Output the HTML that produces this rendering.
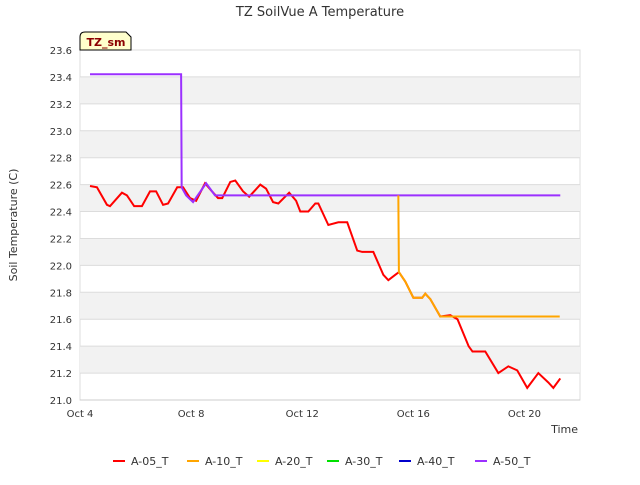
<!DOCTYPE html>
<html><head><meta charset="utf-8"><style>
body{margin:0;background:#fff;font-family:"Liberation Sans","DejaVu Sans",sans-serif}
svg text{font-family:"DejaVu Sans","Liberation Sans",sans-serif}
</style></head><body>
<svg id="c" width="640" height="480" xmlns="http://www.w3.org/2000/svg">
<text x="320" y="16" text-anchor="middle" font-size="13" fill="#333">TZ SoilVue A Temperature</text>
<g id="plot"></g>
<text x="17" y="225" text-anchor="middle" font-size="11" fill="#333" transform="rotate(-90 17 225)">Soil Temperature (C)</text>
<text x="578" y="433" text-anchor="end" font-size="11" fill="#333">Time</text>
<g>
<path d="M80,50 L80,37 Q80,32 85,32 L126,32 L131,37 L131,50 Z" fill="#ffffcc" stroke="#000" stroke-width="1"/>
<text x="106" y="46" text-anchor="middle" font-size="11" font-weight="bold" fill="#8b0000">TZ_sm</text>
</g>
<g id="legend"></g>
</svg>
<script>
const yTicks=[21.0,21.2,21.4,21.6,21.8,22.0,22.2,22.4,22.6,22.8,23.0,23.2,23.4,23.6];
const xTickDays=[4,8,12,16,20];
const xTickLabels=["Oct 4","Oct 8","Oct 12","Oct 16","Oct 20"];
const seriesNames=["A-05_T","A-10_T","A-20_T","A-30_T","A-40_T","A-50_T"];
const seriesColors=["#ff0000","#ffa500","#ffff00","#00e000","#0000cc","#9b30ff"];
const redT=[4.36,4.61,4.97,5.08,5.51,5.69,5.95,6.23,6.52,6.74,6.99,7.17,7.50,7.71,7.96,8.18,8.50,8.75,8.97,9.12,9.41,9.59,9.87,10.09,10.49,10.70,10.95,11.14,11.53,11.78,11.93,12.22,12.47,12.58,12.94,13.30,13.62,13.98,14.16,14.56,14.92,15.10,15.35,15.48,15.71,16.0,16.32,16.43,16.61,16.97,17.33,17.59,17.99,18.13,18.59,19.06,19.42,19.74,20.10,20.50,20.86,21.04,21.29];
const redV=[22.59,22.58,22.45,22.44,22.54,22.52,22.44,22.44,22.55,22.55,22.45,22.46,22.58,22.58,22.50,22.48,22.61,22.55,22.50,22.50,22.62,22.63,22.55,22.51,22.60,22.57,22.47,22.46,22.54,22.48,22.40,22.40,22.46,22.46,22.30,22.32,22.32,22.11,22.10,22.10,21.93,21.89,21.93,21.95,21.88,21.76,21.76,21.79,21.75,21.62,21.63,21.60,21.40,21.36,21.36,21.20,21.25,21.22,21.09,21.20,21.13,21.09,21.16];
const orangeT=[15.46,15.48,15.71,16.0,16.32,16.43,16.61,16.97,21.27];
const orangeV=[22.52,21.95,21.88,21.76,21.76,21.79,21.75,21.62,21.62];
const purpleT=[4.36,7.64,7.66,7.82,8.07,8.54,8.86,21.29];
const purpleV=[23.42,23.42,22.58,22.52,22.47,22.61,22.52,22.52];
const NS="http://www.w3.org/2000/svg";
const X0=80,X1=580,Y0=50,Y1=400,DMIN=4,DMAX=22,VMIN=21.0,VMAX=23.6;
const xs=d=>X0+(d-DMIN)*(X1-X0)/(DMAX-DMIN);
const ys=v=>Y1-(v-VMIN)*(Y1-Y0)/(VMAX-VMIN);
const plot=document.getElementById('plot');
function mk(t,a,p){const e=document.createElementNS(NS,t);for(const k in a)e.setAttribute(k,a[k]);(p||plot).appendChild(e);return e;}
const bg=mk('rect',{x:X0,y:Y0,width:X1-X0,height:Y1-Y0,fill:'#fff',stroke:'#ddd'});


for(let i=0;i<yTicks.length-1;i++){
 if(i%2===1){const b=mk('rect',{x:X0,y:ys(yTicks[i+1]),width:X1-X0,height:ys(yTicks[i])-ys(yTicks[i+1]),fill:'#f2f2f2'});
 
 }
}
yTicks.forEach(v=>{
 const l=mk('line',{x1:X0,x2:X1,y1:ys(v),y2:ys(v),stroke:'#dcdcdc'});
 
 
 const t=mk('text',{x:X0-8,y:ys(v)+4,'text-anchor':'end','font-size':10,fill:'#333'});
 t.textContent=v.toFixed(1);
 
 
});
xTickDays.forEach((d,i)=>{
 const t=mk('text',{x:xs(d),y:Y1+17,'text-anchor':'middle','font-size':10,fill:'#333'});
 t.textContent=xTickLabels[i];
 
 
});
mk('line',{x1:X0,x2:X1,y1:Y1,y2:Y1,stroke:'#ccc'});
function line(T,V,c,name){
 const p=mk('polyline',{points:T.map((t,i)=>xs(t)+','+ys(V[i])).join(' '),fill:'none',stroke:c,'stroke-width':2});
 
 
}
line(redT,redV,seriesColors[0],'series-a-05');
line(purpleT,purpleV,seriesColors[5],'series-a-50');
line(orangeT,orangeV,seriesColors[1],'series-a-10');
const lg=document.getElementById('legend');
const lx=[113,187,257,327,399,475];
seriesNames.forEach((n,i)=>{
 const g=mk('g',{},lg);
 
 
 mk('line',{x1:lx[i],x2:lx[i]+12,y1:461,y2:461,stroke:seriesColors[i],'stroke-width':2},g);
 const t=mk('text',{x:lx[i]+18,y:465,'font-size':11,fill:'#333'},g);
 t.textContent=n;
});
</script>
</body></html>
